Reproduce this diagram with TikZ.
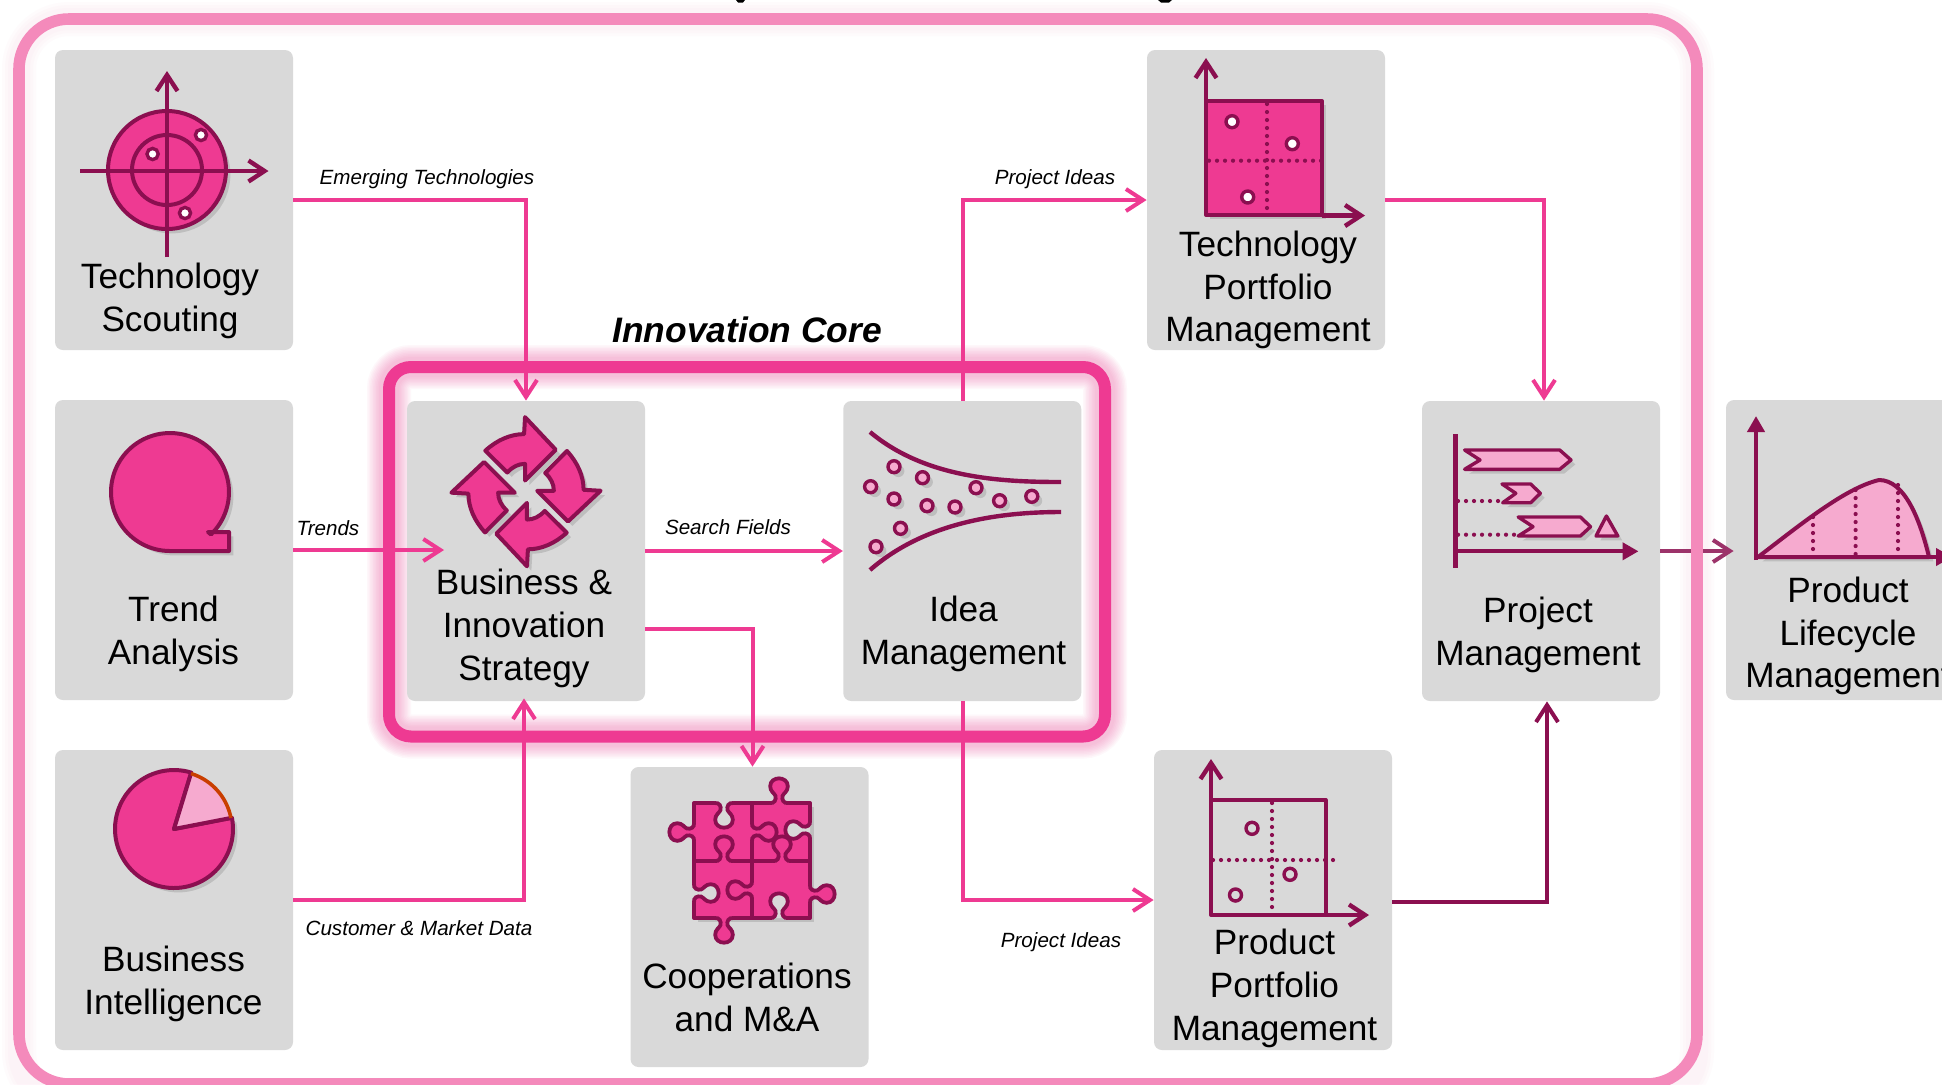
\documentclass[tikz,border=0pt]{standalone}
\usepackage{fontspec}
\setmainfont{Liberation Sans}
\usetikzlibrary{arrows.meta,shadows}
\definecolor{pk}{HTML}{EE3A92}
\definecolor{lp}{HTML}{F6AACF}
\definecolor{dk}{HTML}{8B0F50}
\definecolor{fr}{HTML}{F48ABB}
\definecolor{bx}{HTML}{D9D9D9}
\tikzset{
  box/.style={fill=bx,rounded corners=4pt,minimum width=119pt,minimum height=150pt,inner sep=0pt},
  title/.style={align=center,font=\fontsize{17.6}{21.4}\selectfont,inner sep=0pt},
  lab/.style={font=\fontsize{10.3}{12}\selectfont\itshape,inner sep=0pt},
  conn/.style={draw=pk,line width=2pt,-{Straight Barb[length=8.5pt,width=11pt,line width=2pt]}},
  connd/.style={draw=dk,line width=2pt,-{Straight Barb[length=8.5pt,width=11pt,line width=2pt]}},
  ax/.style={draw=dk,line width=2.2pt,-{Straight Barb[length=8pt,width=10.5pt,line width=2.2pt]}},
  axf/.style={draw=dk,line width=2pt,-{Triangle[length=8pt,width=8.5pt]}},
  ic/.style={draw=dk,line width=2pt,line join=round},
  sh/.style={drop shadow={shadow xshift=2.2pt,shadow yshift=-2.2pt,opacity=.12,fill=black}},
  dots/.style={draw=dk,line width=2.1pt,line cap=round,dash pattern=on 0pt off 4pt},
  ring/.style={draw=dk,line width=1.7pt},
}
\newcommand\knobpath{(-11,0) .. controls (-5,1) and (-3,-4) .. (-4,-8) .. controls (-5,-11) and (-10,-13) .. (-10,-19) .. controls (-10,-25) and (-5,-28) .. (0,-28) .. controls (5,-28) and (10,-25) .. (10,-19) .. controls (10,-13) and (5,-11) .. (4,-8) .. controls (3,-4) and (5,1) .. (11,0)}
\newcommand\knob[4]{\begin{scope}[shift={(#1,#2)},rotate=#3,scale=.88]\path[fill=#4] \knobpath;\draw[draw=dk,line width=1.9pt] \knobpath;\end{scope}}
\begin{document}
\begin{tikzpicture}[x=.5pt,y=-.5pt]
\useasboundingbox (0,0) rectangle (1942,1084);
\clip (0,0) rectangle (1942,1084);
\fill[white] (0,0) rectangle (1942,1084);
% faint halo of the outer frame
\foreach \w in {34,28,22}
  \draw[draw=fr,opacity=.03,line width=\w*.5pt,rounded corners=25pt] (19,19) rectangle (1697,1102);
% glow of the core frame
\foreach \w in {44,41,38,35,32,29,26,23,20}
  \draw[draw=pk,opacity=.04,line width=\w*.5pt,rounded corners=11pt] (389,367) rectangle (1105,736.5);
\draw[draw=pk,line width=6pt,rounded corners=11pt] (389,367) rectangle (1105,736.5);
% clipped descenders of a heading above the frame
\fill[black] (736,0) -- (745,0) -- (743,2.5) -- (738,2.5) -- cycle;
\fill[black] (1158,0) -- (1172,0) -- (1169,2.5) -- (1161,2.5) -- cycle;
% boxes
\node[box] (ts) at (174,200) {};
\node[box] (ta) at (174,550) {};
\node[box] (bi) at (174,900) {};
\node[box] (bis) at (526,551) {};
\node[box] (idea) at (962.25,551) {};
\node[box] (coop) at (749.5,917) {};
\node[box] (tpm) at (1266,200) {};
\node[box] (ppm) at (1273,900) {};
\node[box] (pm) at (1541,551) {};
\node[box] (plm) at (1845,550) {};
% Project -> Lifecycle goes under the outer frame
\draw[connd,draw=dk!85!white] (pm.east) -- ([xshift=4pt,yshift=-.5pt]plm.west);
% outer frame
\draw[draw=fr,line width=5.8pt,rounded corners=25pt] (19,19) rectangle (1697,1084);
% connectors
\coordinate (trendin) at (444,550);
\draw[conn] (ts.east) -| (bis.north);
\draw[conn] (ta.east) -- (trendin);
\draw[conn] (bis.east) -- (idea.west);
\draw[conn] ([yshift=-39pt]bis.east) -| ([xshift=1.5pt]coop.north);
\draw[conn] (bi.east) -| ([xshift=-1pt,yshift=1.5pt]bis.south);
\draw[conn] ([xshift=.6pt]idea.north) |- (tpm.west);
\draw[conn] ([xshift=.3pt]idea.south) |- (ppm.west);
\draw[conn] (tpm.east) -| ([xshift=1.5pt]pm.north);
\draw[connd] ([yshift=-.8pt]ppm.east) -| ([xshift=3pt]pm.south);
% labels
\node[lab] (l1) at (427,179.5) {Emerging Technologies};
\node[lab] (l2) at (1055,179.5) {Project Ideas};
\node[lab] (l3) at (328,528) {Trends};
\node[lab] (l4) at (728,527.5) {Search Fields};
\node[lab] (l5) at (419,928) {Customer \& Market Data};
\node[lab] (l6) at (1061,942) {Project Ideas};
\node[inner sep=0pt,font=\fontsize{17.7}{22}\selectfont\bfseries\itshape] (core) at (747,329.5) {Innovation Core};
% titles
\node[title] (t1) at (170,301) {Technology\\Scouting};
\node[title] (t2) at (173.5,634) {Trend\\Analysis};
\node[title] (t3) at (173.5,984) {Business\\Intelligence};
\node[title] (t4) at (524,628.5) {Business \&\\Innovation\\Strategy};
\node[title] (t5) at (963.5,634) {Idea\\Management};
\node[title] (t6) at (747,997.5) {Cooperations\\and M\&A};
\node[title] (t7) at (1268,290) {Technology\\Portfolio\\Management};
\node[title] (t8) at (1274.5,988.5) {Product\\Portfolio\\Management};
\node[title] (t9) at (1538,635) {Project\\Management};
\node[title] (t10) at (1848,636) {Product\\Lifecycle\\Management};
% --- Technology Scouting icon
\path[fill=bx,sh] (167,170) circle[radius=29.5pt];
\draw[ic,fill=pk] (167,170) circle[radius=29.5pt];
\draw[ic] (167,170) circle[radius=17.5pt];
\draw[ax] (167,257) -- (167,71);
\draw[ax] (80,171) -- (268.5,171);
\foreach \x/\y in {152.6/154,201/135,185/213}
  \draw[ring,fill=white] (\x,\y) circle[radius=2.8pt];
% --- Trend icon
\draw[ic,fill=pk,sh] (170,551) -- (229,551) -- (229,532) -- (208,532) --
  plot[domain=46:-270,samples=90,variable=\t] ({170+59*cos(\t)},{492+59*sin(\t)}) -- cycle;
% --- Business Intelligence icon
\draw[ic,fill=pk,sh] (174,829) -- plot[domain=-11:287,samples=80,variable=\t] ({174+59*cos(\t)},{829+59*sin(\t)}) -- cycle;
\path[fill=lp] (174,829) -- plot[domain=-73:-11,samples=24,variable=\t] ({174+57.5*cos(\t)},{829+57.5*sin(\t)}) -- cycle;
\draw[draw=dk,line width=2pt,line join=round] ({174+59*cos(-73)},{829+59*sin(-73)}) -- (174,829) -- ({174+59*cos(-11)},{829+59*sin(-11)});
\draw[draw=black!30!orange!70!red,line width=1.8pt] plot[domain=-73:-11,samples=24,variable=\t] ({174+58*cos(\t)},{829+58*sin(\t)});
% --- Strategy icon
\foreach \a in {0,-90,-180,-270}{
  \begin{scope}[shift={(526,491.7)},rotate=\a,scale=.96]
    \draw[ic,fill=pk,sh] (-42.4,-42.7) .. controls (-30,-54) and (-16,-60) .. (-2,-60) -- (-1,-77.7) -- (31,-43.7) -- (-1,-11.7) -- (-1,-29) .. controls (-8,-29) and (-14,-26) .. (-19.5,-20) -- cycle;
  \end{scope}
}
% --- Idea icon
\draw[draw=dk,line width=2.2pt] (870,432) .. controls (925,478) and (1000,482) .. (1061,482);
\draw[draw=dk,line width=2.2pt] (870,570) .. controls (925,522) and (1000,512) .. (1061,512);
\foreach \x/\y in {870.6/486.7,894/466.7,922.5/477.7,894/499,927/505.7,955/507,976/487.7,999.6/500.7,1031.8/496.3,900.5/528.3,876/546.7}
  \draw[ring,fill=lp,sh] (\x,\y) circle[radius=3pt];
% --- Puzzle icon
\path[fill=pk,sh] (694,803) rectangle (810,918);
\knob{779}{803}{0}{pk}
\knob{694}{832}{90}{pk}
\knob{810}{894}{-90}{pk}
\knob{724}{918}{180}{pk}
\knob{724}{803}{180}{bx}
\knob{694}{893}{-90}{bx}
\knob{810}{830}{90}{bx}
\knob{779}{918}{0}{bx}
\knob{752}{832}{-90}{pk}
\knob{752}{890}{90}{pk}
\knob{724}{861}{0}{pk}
\knob{782}{861}{0}{pk}
\draw[draw=dk,line width=1.9pt,line cap=round]
  (694,803) -- (714,803) (734,803) -- (769,803) (789,803) -- (810,803)
  (694,918) -- (714,918) (734,918) -- (769,918) (789,918) -- (810,918)
  (694,803) -- (694,822) (694,842) -- (694,883) (694,903) -- (694,918)
  (810,803) -- (810,820) (810,840) -- (810,884) (810,904) -- (810,918)
  (752,803) -- (752,822) (752,842) -- (752,880) (752,900) -- (752,918)
  (694,861) -- (714,861) (734,861) -- (772,861) (792,861) -- (810,861);
% --- Technology Portfolio icon
\draw[ic,fill=pk,sh] (1206,101) rectangle (1322,215);
\draw[dots] (1267,104) -- (1267,214);
\draw[dots] (1209,160.7) -- (1322,160.7);
\draw[ax] (1206,101) -- (1206,58);
\draw[ax] (1322,215.5) -- (1365,215.5);
\foreach \x/\y in {1232/121.7,1292.3/143.7,1247.7/197}
  \draw[ring,fill=white] (\x,\y) circle[radius=3pt];
% --- Product Portfolio icon
\draw[ic] (1211,800) rectangle (1325.5,915);
\draw[dots] (1272,803) -- (1272,913);
\draw[dots] (1213,860) -- (1333,860);
\draw[ax] (1211,800) -- (1211,759);
\draw[ax] (1325,915) -- (1369,915);
\foreach \x/\y in {1252/828.3,1290/874.3,1235.5/895}
  \draw[ring] (\x,\y) circle[radius=3pt];
% --- Project Management icon
\draw[ic,line width=2.2pt] (1455.3,434) -- (1455.3,567.7);
\draw[dots] (1458,501) -- (1502,501);
\draw[dots] (1458,534.7) -- (1518,534.7);
\draw[axf] (1455,551.3) -- (1638.5,551.3);
\draw[ic,fill=lp,line width=1.7pt,sh] (1464.6,450) -- (1559.7,450) -- (1571,460) -- (1559.7,469.3) -- (1464.6,469.3) -- (1480,460) -- cycle;
\draw[ic,fill=lp,line width=1.7pt,sh] (1502,484) -- (1530.7,484) -- (1540.3,493.3) -- (1530.7,502.7) -- (1502.7,502.7) -- (1515.8,493.3) -- cycle;
\draw[ic,fill=lp,line width=1.7pt,sh] (1518.2,517) -- (1580.4,517) -- (1590.5,526.7) -- (1580.4,536) -- (1518.2,536) -- (1533,526.7) -- cycle;
\draw[ic,fill=lp,line width=1.7pt,sh] (1606.4,516) -- (1617.8,536) -- (1596,536) -- cycle;
% --- Product Lifecycle icon
\draw[ic,fill=lp,sh] (1758,557) .. controls (1800,525) and (1845,488) .. (1879,480) .. controls (1905,480) and (1920,520) .. (1929,557) -- cycle;
\draw[dots] (1813,517) -- (1813,556);
\draw[dots] (1855.6,490) -- (1855.6,556);
\draw[dots] (1898,485) -- (1898,556);
\draw[axf] (1756,560) -- (1756,416);
\draw[axf] (1756,557) -- (1952,557);
\end{tikzpicture}
\end{document}
